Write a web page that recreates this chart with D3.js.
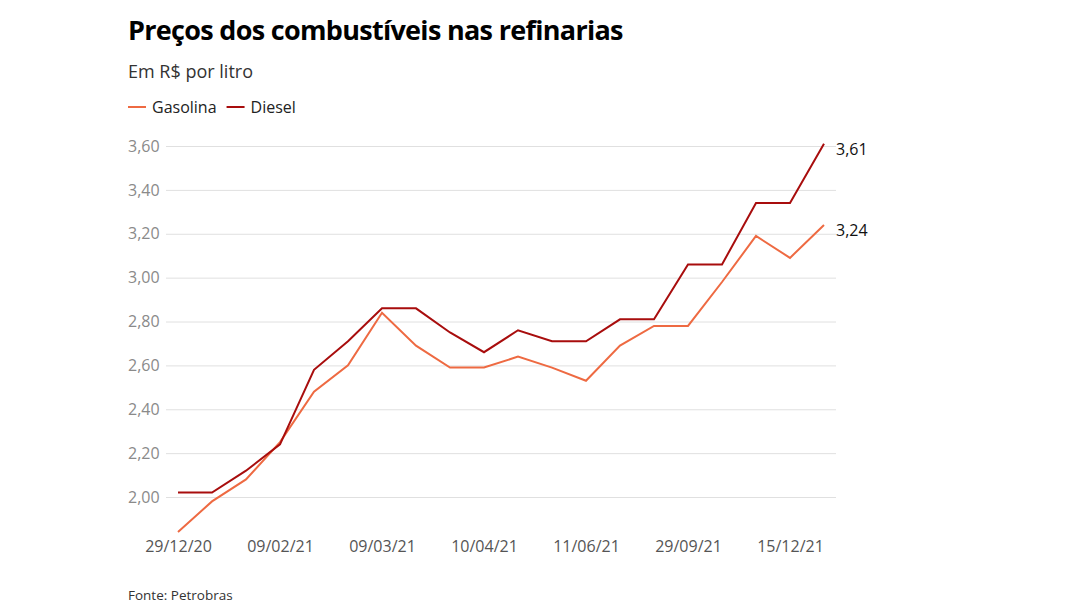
<!DOCTYPE html>
<html><head><meta charset="utf-8">
<script src="https://cdn.jsdelivr.net/npm/d3@7"></script>
<style>body{margin:0;background:#fff;} svg{display:block;font-family:"Open Sans",sans-serif;}</style>
</head><body>
<svg id="c" width="1080" height="607"></svg>
<script>
const pointIndex = d3.range(20);
const tickIndex = [0, 3, 6, 9, 12, 15, 18];
const tickLabels = ["29/12/20", "09/02/21", "09/03/21", "10/04/21", "11/06/21", "29/09/21", "15/12/21"];
const gasolina = [1.84, 1.98, 2.08, 2.25, 2.48, 2.60, 2.84, 2.69, 2.59, 2.59, 2.64, 2.59, 2.53, 2.69, 2.78, 2.78, 2.98, 3.19, 3.09, 3.24];
const diesel = [2.02, 2.02, 2.12, 2.24, 2.58, 2.71, 2.86, 2.86, 2.75, 2.66, 2.76, 2.71, 2.71, 2.81, 2.81, 3.06, 3.06, 3.34, 3.34, 3.61];
const yTicks = [2.0, 2.2, 2.4, 2.6, 2.8, 3.0, 3.2, 3.4, 3.6];
const seriesNames = ["Gasolina", "Diesel"];
const colors = ["#ee6a42", "#a80d0d"];

const svg = d3.select("#c");
const x = d3.scaleLinear().domain([0, 19]).range([178, 824]);
const y = d3.scaleLinear().domain([2.0, 3.6]).range([497, 146]);
const fmt = v => d3.format(".2f")(v).replace(".", ",");

svg.append("text").attr("x", 128).attr("y", 40).attr("font-size", 27).attr("font-weight", 700)
  .attr("letter-spacing", "-0.7").attr("fill", "#000").text("Preços dos combustíveis nas refinarias");
svg.append("text").attr("x", 128).attr("y", 78).attr("font-size", 18).attr("fill", "#333").text("Em R$ por litro");

// legend
const leg = svg.append("g");
let lx = 128;
seriesNames.forEach((n, i) => {
  leg.append("line").attr("x1", lx).attr("x2", lx + 18).attr("y1", 107).attr("y2", 107)
    .attr("stroke", colors[i]).attr("stroke-width", 2);
  const t = leg.append("text").attr("x", lx + 24).attr("y", 113).attr("font-size", 16).attr("fill", "#222").text(n);
  lx += 24 + t.node().getComputedTextLength() + 10;
});

// y axis grid
const yAxis = d3.axisLeft(y).tickValues(yTicks).tickFormat(fmt).tickSize(-(836 - 166)).tickPadding(6);
const yg = svg.append("g").attr("transform", "translate(166,0)").call(yAxis);
yg.select(".domain").remove();
yg.selectAll(".tick line").attr("stroke", "#e0e0e0").attr("stroke-width", 1);
yg.selectAll(".tick text").attr("font-size", 16).attr("fill", "#8a8a8a").attr("font-family", "Open Sans")
  .attr("text-anchor", "start").attr("x", -38);

// x axis
const xAxis = d3.axisBottom(x).tickValues(tickIndex).tickFormat((d, i) => tickLabels[i]).tickSize(0).tickPadding(8);
const xg = svg.append("g").attr("transform", "translate(0,533)").call(xAxis);
xg.select(".domain").remove();
xg.selectAll(".tick text").attr("font-size", 16).attr("fill", "#555").attr("font-family", "Open Sans");

// lines
const line = d3.line().x((d, i) => x(pointIndex[i])).y(d => y(d));
[gasolina, diesel].forEach((s, i) => {
  svg.append("path").datum(s).attr("d", line).attr("fill", "none")
    .attr("stroke", colors[i]).attr("stroke-width", 2).attr("stroke-linejoin", "miter");
  svg.append("text").attr("x", x(19) + 12).attr("y", y(s[19]) + 11).attr("font-size", 16)
    .attr("fill", "#111").text(fmt(s[19]));
});

svg.append("text").attr("x", 128).attr("y", 600).attr("font-size", 13.5).attr("fill", "#333").text("Fonte: Petrobras");
</script>
</body></html>
